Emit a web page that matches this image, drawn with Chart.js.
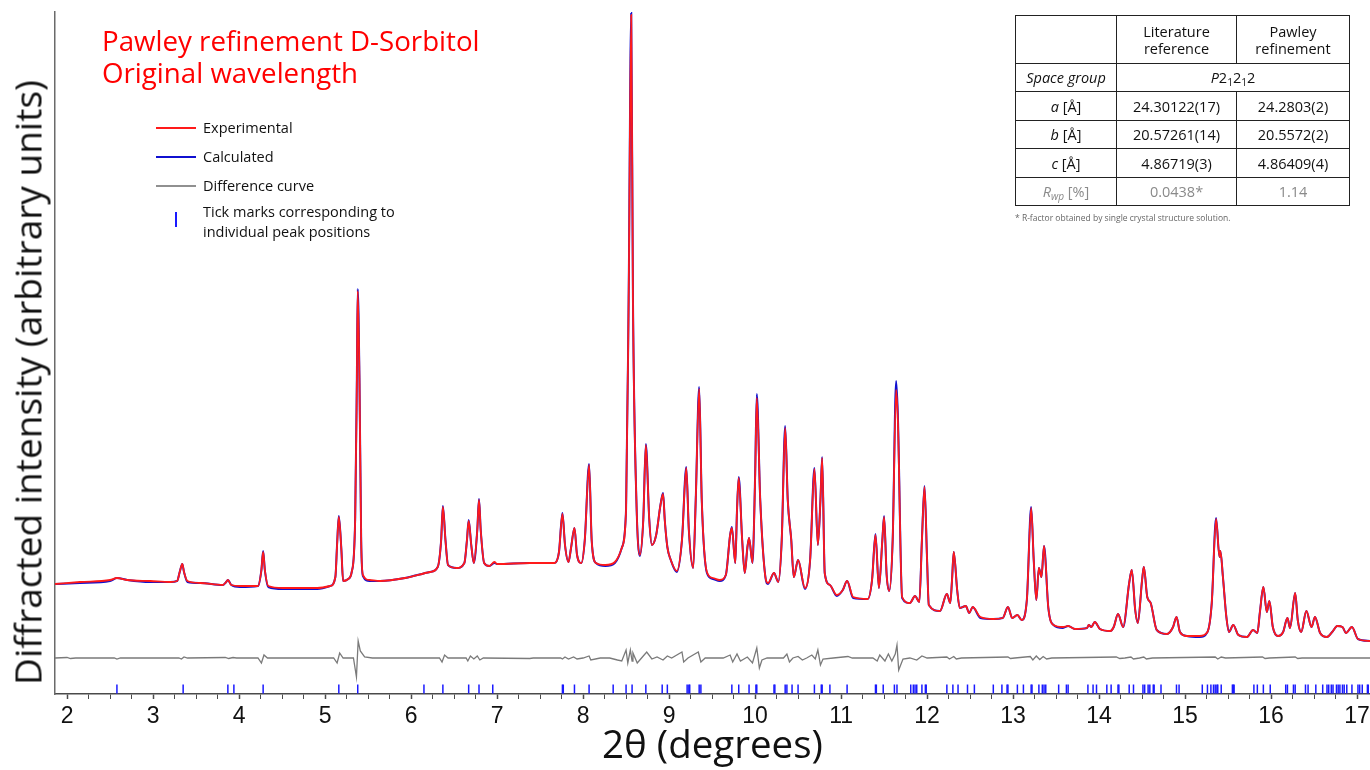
<!DOCTYPE html>
<html>
<head>
<meta charset="utf-8">
<script src="https://cdn.jsdelivr.net/npm/chart.js@4.4.1/dist/chart.umd.min.js"></script>
<style>
  body { margin: 0; background: #fff; }
  #wrap { position: relative; width: 1370px; height: 770px; overflow: hidden; font-family: 'Open Sans', sans-serif; color: #111; }
  #chart { position: absolute; left: 0; top: 0; }
  .heading { position: absolute; left: 102px; top: 24px; color: #ff0000; font-size: 27.7px; line-height: 32px; white-space: nowrap; }
  .ytitle { position: absolute; left: -323px; top: 360px; width: 700px; height: 45px; line-height: 45px; font-size: 37px; text-align: center; transform: rotate(-90deg); white-space: nowrap; }
  .lg { position: absolute; left: 156px; font-size: 14.5px; line-height: 20px; white-space: nowrap; }
  .lg .sw { position: absolute; left: 0; width: 40px; height: 2px; top: 9px; }
  .lg .txt { position: absolute; left: 47px; top: 0; }
  .lg .tick { position: absolute; left: 19px; top: 3px; width: 2px; height: 15px; background: #1a1aff; }
  table.params { position: absolute; left: 1015px; top: 15px; border-collapse: collapse; font-size: 14.5px; }
  table.params td { border: 1px solid #222; text-align: center; padding: 0; line-height: 17px; }
  table.params sub { font-size: 70%; vertical-align: -0.25em; line-height: 0; }
  .grey td { color: #8a8a8a; }
  .note { position: absolute; left: 1015px; top: 212px; font-size: 8.5px; color: #666; white-space: nowrap; }
</style>
</head>
<body>
<div id="wrap">
  <canvas id="chart" width="1370" height="770"></canvas>

  <div class="heading">Pawley refinement D-Sorbitol<br>Original wavelength</div>
  <div class="ytitle">Diffracted intensity (arbitrary units)</div>

  <div class="lg" style="top:118px"><div class="sw" style="background:#ff1a1a"></div><div class="txt">Experimental</div></div>
  <div class="lg" style="top:147px"><div class="sw" style="background:#1010d0"></div><div class="txt">Calculated</div></div>
  <div class="lg" style="top:176px"><div class="sw" style="background:#909090"></div><div class="txt">Difference curve</div></div>
  <div class="lg" style="top:202px"><div class="tick" style="top:10px"></div><div class="txt">Tick marks corresponding to<br>individual peak positions</div></div>

  <table class="params">
    <colgroup><col style="width:101px"><col style="width:120px"><col style="width:113px"></colgroup>
    <tr style="height:48px"><td></td><td>Literature<br>reference</td><td>Pawley<br>refinement</td></tr>
    <tr style="height:28px"><td><i>Space group</i></td><td colspan="2"><i>P</i>2<sub>1</sub>2<sub>1</sub>2</td></tr>
    <tr style="height:29px"><td><i>a</i> [Å]</td><td>24.30122(17)</td><td>24.2803(2)</td></tr>
    <tr style="height:28px"><td><i>b</i> [Å]</td><td>20.57261(14)</td><td>20.5572(2)</td></tr>
    <tr style="height:29px"><td><i>c</i> [Å]</td><td>4.86719(3)</td><td>4.86409(4)</td></tr>
    <tr class="grey" style="height:28px"><td><i>R</i><sub><i>wp</i></sub> [%]</td><td>0.0438*</td><td>1.14</td></tr>
  </table>
  <div class="note">* R-factor obtained by single crystal structure solution.</div>
</div>

<script>
// 2θ positions of the measured profile (degrees)
const twoTheta = [
  1.86, 2.15, 2.50, 2.58, 2.70, 2.97, 3.20, 3.28, 3.31, 3.34, 3.36, 3.40, 3.55, 3.81, 3.85, 3.87, 3.91, 4.01, 4.22, 4.26,
  4.28, 4.30, 4.34, 4.51, 4.91, 5.06, 5.12, 5.14, 5.16, 5.19, 5.21, 5.27, 5.31, 5.35, 5.37, 5.38, 5.40, 5.42, 5.44, 5.52,
  5.64, 5.93, 6.22, 6.31, 6.35, 6.37, 6.40, 6.43, 6.53, 6.62, 6.65, 6.67, 6.70, 6.73, 6.77, 6.79, 6.81, 6.85, 6.91, 6.97,
  7.00, 7.38, 7.67, 7.72, 7.76, 7.79, 7.83, 7.86, 7.90, 7.93, 7.98, 8.02, 8.07, 8.10, 8.15, 8.26, 8.37, 8.45, 8.50, 8.53,
  8.56, 8.58, 8.62, 8.66, 8.70, 8.73, 8.77, 8.80, 8.85, 8.90, 8.93, 8.95, 8.98, 9.02, 9.09, 9.15, 9.20, 9.23, 9.28, 9.31,
  9.35, 9.38, 9.44, 9.51, 9.59, 9.66, 9.71, 9.73, 9.77, 9.79, 9.81, 9.85, 9.88, 9.91, 9.93, 9.97, 10.00, 10.02, 10.06, 10.12,
  10.15, 10.22, 10.27, 10.31, 10.35, 10.38, 10.42, 10.45, 10.50, 10.58, 10.64, 10.69, 10.73, 10.76, 10.78, 10.81, 10.87, 10.95, 11.02, 11.07,
  11.14, 11.31, 11.36, 11.40, 11.44, 11.48, 11.50, 11.53, 11.56, 11.60, 11.64, 11.66, 11.71, 11.80, 11.86, 11.91, 11.94, 11.97, 12.00, 12.02,
  12.15, 12.23, 12.27, 12.29, 12.31, 12.35, 12.38, 12.45, 12.49, 12.53, 12.62, 12.77, 12.88, 12.94, 12.99, 13.05, 13.10, 13.16, 13.21, 13.24,
  13.27, 13.30, 13.33, 13.36, 13.41, 13.47, 13.58, 13.64, 13.72, 13.86, 13.88, 13.91, 13.95, 14.01, 14.13, 14.17, 14.22, 14.28, 14.35, 14.38,
  14.42, 14.45, 14.50, 14.52, 14.56, 14.60, 14.67, 14.79, 14.86, 14.90, 14.94, 15.02, 15.17, 15.26, 15.31, 15.36, 15.40, 15.41, 15.44, 15.48,
  15.51, 15.56, 15.62, 15.72, 15.79, 15.84, 15.87, 15.91, 15.95, 15.98, 16.02, 16.08, 16.14, 16.19, 16.22, 16.28, 16.31, 16.35, 16.41, 16.47,
  16.51, 16.57, 16.65, 16.71, 16.77, 16.83, 16.87, 16.94, 17.01, 17.15
]

// experimental intensity (arbitrary units)
const observed = [
  110, 112, 114, 116, 114, 113, 112, 113, 122, 130, 122, 113, 111, 109, 112, 114, 109, 108, 108, 124,
  142, 124, 108, 106, 106, 108, 117, 149, 177, 144, 113, 115, 122, 174, 314, 403, 314, 154, 119, 114,
  113, 116, 122, 127, 154, 187, 154, 129, 126, 131, 154, 173, 149, 131, 164, 194, 164, 131, 128, 132,
  130, 131, 131, 142, 180, 149, 132, 146, 166, 139, 131, 154, 229, 154, 131, 129, 132, 146, 184, 394,
  679, 394, 194, 139, 174, 249, 174, 149, 159, 189, 200, 174, 147, 134, 123, 154, 226, 164, 126, 194,
  305, 194, 122, 116, 114, 119, 159, 166, 131, 184, 216, 154, 121, 146, 156, 131, 214, 296, 194, 117,
  111, 121, 112, 154, 266, 194, 155, 117, 134, 106, 134, 225, 149, 194, 236, 121, 109, 99, 104, 113,
  97, 95, 114, 159, 106, 154, 177, 119, 103, 154, 304, 274, 97, 91, 98, 92, 154, 207, 134, 89,
  83, 100, 91, 114, 142, 104, 86, 88, 81, 87, 77, 75, 76, 87, 76, 79, 74, 94, 186, 134,
  94, 126, 117, 148, 86, 69, 67, 68, 65, 66, 69, 67, 72, 65, 63, 67, 80, 67, 111, 124,
  84, 71, 114, 127, 97, 91, 64, 60, 67, 77, 62, 58, 58, 62, 91, 175, 137, 143, 117, 77,
  62, 69, 59, 57, 64, 61, 82, 107, 82, 93, 67, 58, 62, 76, 66, 101, 74, 62, 83, 67,
  77, 61, 57, 62, 68, 67, 61, 67, 55, 53
]

// calculated profile from the Pawley fit
const calculated = [
  110, 111, 113, 116, 114, 112, 112, 113, 122, 130, 122, 112, 111, 109, 112, 114, 109, 107, 108, 124,
  143, 124, 107, 105, 105, 108, 117, 150, 178, 144, 113, 115, 122, 175, 316, 405, 316, 154, 118, 113,
  113, 116, 122, 127, 154, 188, 154, 129, 126, 131, 154, 174, 149, 131, 164, 195, 164, 131, 128, 131,
  130, 131, 131, 142, 181, 149, 132, 146, 166, 139, 131, 154, 230, 154, 131, 128, 131, 146, 185, 396,
  681, 396, 194, 138, 174, 250, 174, 149, 159, 189, 201, 174, 147, 134, 122, 154, 227, 164, 126, 194,
  307, 194, 121, 115, 113, 119, 159, 167, 131, 184, 217, 154, 121, 146, 156, 131, 216, 300, 194, 117,
  110, 121, 112, 154, 268, 194, 155, 117, 134, 105, 134, 226, 149, 194, 237, 121, 109, 98, 104, 113,
  96, 95, 114, 160, 106, 154, 178, 119, 103, 154, 313, 280, 96, 91, 98, 92, 154, 208, 134, 89,
  83, 100, 91, 114, 142, 104, 86, 88, 81, 87, 76, 75, 76, 87, 76, 79, 74, 94, 187, 134,
  94, 126, 117, 148, 86, 69, 66, 68, 65, 66, 69, 67, 72, 65, 63, 67, 80, 67, 111, 124,
  84, 71, 114, 127, 97, 91, 64, 60, 67, 77, 62, 58, 57, 62, 91, 176, 137, 143, 117, 77,
  62, 69, 59, 57, 64, 61, 82, 107, 82, 93, 67, 58, 62, 76, 66, 101, 74, 62, 83, 67,
  77, 61, 57, 62, 68, 67, 61, 67, 55, 53
]

// difference curve (observed - calculated, shifted down)
const diffTheta = [
  1.86, 2.00, 2.04, 2.10, 2.55, 2.58, 2.62, 3.30, 3.33, 3.36, 3.40, 3.84, 3.88, 3.93, 3.97, 4.22, 4.26, 4.29, 4.33, 5.10,
  5.14, 5.17, 5.21, 5.33, 5.365, 5.385, 5.41, 5.46, 5.55, 6.33, 6.36, 6.39, 6.43, 6.64, 6.66, 6.69, 6.73, 6.77, 6.80, 6.84,
  7.38, 7.42, 7.74, 7.76, 7.79, 7.83, 7.89, 7.93, 8.00, 8.07, 8.09, 8.20, 8.31, 8.40, 8.45, 8.50, 8.52, 8.55, 8.57, 8.58,
  8.63, 8.69, 8.74, 8.80, 8.86, 8.93, 8.98, 9.03, 9.15, 9.17, 9.22, 9.34, 9.37, 9.42, 9.63, 9.71, 9.74, 9.79, 9.83, 9.91,
  9.97, 10.02, 10.05, 10.08, 10.14, 10.33, 10.37, 10.40, 10.44, 10.50, 10.55, 10.60, 10.66, 10.70, 10.73, 10.76, 10.79, 10.91, 11.08, 11.13,
  11.37, 11.42, 11.45, 11.51, 11.55, 11.59, 11.63, 11.65, 11.67, 11.72, 11.80, 11.88, 11.94, 12.00, 12.23, 12.26, 12.31, 12.34, 12.40, 12.94,
  12.97, 13.02, 13.20, 13.23, 13.27, 13.31, 13.35, 13.39, 13.45, 14.20, 14.24, 14.30, 14.37, 14.40, 14.47, 14.52, 14.55, 14.62, 15.35, 15.38,
  15.42, 15.47, 15.90, 15.93, 15.98, 16.28, 16.31, 16.36, 17.15
]
const difference = [
  36, 36.5, 35.5, 36, 36, 35, 36, 36, 35, 37, 36, 36.5, 35.5, 36.5, 36, 36, 31, 39, 36, 36,
  31, 41, 36, 36, 17, 53, 43, 37, 36, 36, 32, 39, 36, 36, 33, 38, 35, 38, 34, 36,
  35.5, 36, 36, 35, 37, 35, 37, 35, 36, 38, 34, 36, 36, 34, 33, 44, 31, 44, 33, 41,
  31, 37, 42, 35, 37, 34, 38, 36, 42, 32, 36, 42, 32, 36, 36, 39, 32, 40, 33, 37,
  31, 46, 26, 34, 36, 36, 40, 32, 36, 37.5, 34, 36, 39, 35, 44, 29, 35, 36, 37.5, 36,
  36, 33, 39, 33, 40, 33, 40, 49, 24, 35, 36, 34, 38, 36, 37, 35, 37.5, 35, 36, 37,
  35.5, 36, 37.5, 34, 38, 34.5, 37.5, 35, 36, 37, 35.5, 36, 37, 35, 36, 37, 35, 36, 37, 35,
  37, 36, 37, 35.5, 36, 37, 35.5, 36, 36
]

// reflection positions (degrees)
const peakPositions = [
  2.58, 3.35, 3.87, 3.94, 4.28, 5.16, 5.38, 6.15, 6.37, 6.67, 6.79, 6.95, 7.76, 7.77, 7.90, 8.07, 8.35, 8.50, 8.57, 8.73,
  8.92, 8.98, 9.21, 9.23, 9.24, 9.35, 9.37, 9.73, 9.81, 9.93, 10.01, 10.02, 10.22, 10.23, 10.35, 10.37, 10.43, 10.50, 10.69, 10.77,
  10.78, 10.87, 11.07, 11.40, 11.41, 11.49, 11.62, 11.65, 11.81, 11.84, 11.86, 11.88, 11.94, 11.98, 11.99, 12.23, 12.30, 12.36, 12.47, 12.55,
  12.77, 12.87, 12.93, 12.94, 13.05, 13.12, 13.21, 13.22, 13.30, 13.34, 13.36, 13.38, 13.53, 13.62, 13.64, 13.87, 13.93, 13.97, 14.09, 14.14,
  14.22, 14.23, 14.35, 14.40, 14.51, 14.53, 14.57, 14.59, 14.63, 14.64, 14.72, 14.90, 14.93, 15.20, 15.26, 15.30, 15.33, 15.35, 15.37, 15.38,
  15.42, 15.55, 15.56, 15.57, 15.80, 15.84, 15.91, 15.99, 16.17, 16.19, 16.26, 16.28, 16.40, 16.43, 16.52, 16.60, 16.65, 16.67, 16.70, 16.72,
  16.76, 16.78, 16.80, 16.83, 16.85, 16.88, 16.94, 17.01, 17.03, 17.06, 17.12, 17.13
]
const tickMarkLevel = 5

const xRange = [1.86, 17.15]
const yRange = [0, 682]

function toPoints(xs, ys){
    return xs.map((x, i) => ({ x: x, y: ys[i] }))
}

function isWhole(v){ return Math.abs(v - Math.round(v)) < 1e-6 }

// dataset 0 is drawn last, so the experimental curve sits on top
const data = {
    datasets: [{
        label: 'Experimental',
        data: toPoints(twoTheta, observed),
        borderColor: '#ff1a1a',
        borderWidth: 1.8,
        showLine: true,
        pointRadius: 0,
        pointHoverRadius: 0,
        cubicInterpolationMode: 'monotone'
    },{
        label: 'Calculated',
        data: toPoints(twoTheta, calculated),
        borderColor: '#1010d0',
        borderWidth: 2,
        showLine: true,
        pointRadius: 0,
        pointHoverRadius: 0,
        cubicInterpolationMode: 'monotone'
    },{
        label: 'Difference curve',
        data: toPoints(diffTheta, difference),
        borderColor: '#7a7a7a',
        borderWidth: 1.3,
        showLine: true,
        pointRadius: 0,
        pointHoverRadius: 0,
        tension: 0
    },{
        label: 'Tick marks',
        data: peakPositions.map(p => ({ x: p, y: tickMarkLevel })),
        showLine: false,
        pointStyle: 'line',
        rotation: 90,
        pointRadius: 4.5,
        pointHoverRadius: 4.5,
        borderColor: '#1a1aff',
        borderWidth: 1.5
    }]
}

const config = {
    type: 'scatter',
    data: data,
    options: {
        responsive: false,
        devicePixelRatio: 1,
        animation: false,
        events: [],
        layout: { autoPadding: false, padding: { top: 12, left: 0, right: 0, bottom: 0 } },
        plugins: { legend: { display: false }, tooltip: { enabled: false } },
        scales: {
            x: {
                type: 'linear',
                min: xRange[0], max: xRange[1],
                // fixed axis band; the last label may run into the page edge
                afterFit: (scale) => { scale.height = 76; scale.paddingRight = 0; scale.paddingLeft = 0 },
                border: { color: '#4a4a4a', width: 1.5 },
                grid: {
                    drawOnChartArea: false,
                    tickLength: 5,
                    tickColor: '#4a4a4a',
                    tickWidth: (ctx) => (ctx.tick && isWhole(ctx.tick.value)) ? 1.5 : 1
                },
                ticks: {
                    stepSize: 0.25,
                    includeBounds: false,
                    autoSkip: false,
                    maxRotation: 0,
                    padding: 4,
                    color: '#111',
                    font: { family: "'Liberation Sans', Arial, sans-serif", size: 23 },
                    callback: (v) => isWhole(v) ? String(Math.round(v)) : ''
                },
                title: {
                    display: true,
                    text: '2θ (degrees)',
                    color: '#111',
                    padding: 0,
                    font: { family: "'Open Sans', sans-serif", size: 38.5 }
                }
            },
            y: {
                min: yRange[0], max: yRange[1],
                afterFit: (scale) => { scale.width = 55 },
                border: { color: '#6a6a6a', width: 1.5 },
                grid: { display: false, drawTicks: false },
                ticks: { display: false }
            }
        }
    }
}

new Chart(document.getElementById('chart'), config)
</script>
</body>
</html>
